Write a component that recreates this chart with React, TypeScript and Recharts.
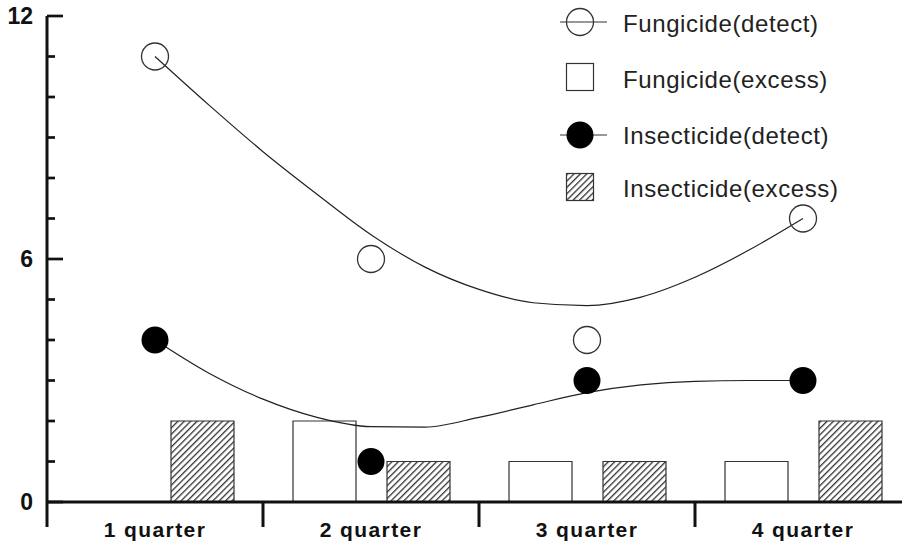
import { Bar, ComposedChart, Legend, Line, XAxis, YAxis } from "recharts";

const QUARTERS = ["1 quarter", "2 quarter", "3 quarter", "4 quarter"];
const FUNGICIDE_DETECT = [11, 6, 4, 7];
const FUNGICIDE_EXCESS = [0, 2, 1, 1];
const INSECTICIDE_DETECT = [4, 1, 3, 3];
const INSECTICIDE_EXCESS = [2, 1, 1, 2];

// trend curves at quarter steps (1 = "1 quarter")
const TREND_X = [1, 1.25, 1.5, 1.75, 2, 2.25, 2.5, 2.75, 3, 3.25, 3.5, 3.75, 4];
const FUNGICIDE_TREND = [11, 9.8, 8.65, 7.6, 6.6, 5.8, 5.25, 4.92, 4.85, 5.06, 5.55, 6.22, 7];
const INSECTICIDE_TREND = [4, 3.18, 2.54, 2.09, 1.86, 1.85, 2.09, 2.4, 2.7, 2.89, 2.98, 3, 3];

const Y_TICKS = [0, 1, 2, 3, 4, 5, 6, 7, 8, 9, 10, 11, 12];
const Y_LABELED = [0, 6, 12];

const W = 930;
const H = 545;
const Y_AXIS_W = 47;
const X_AXIS_H = 43;
const MARGIN = { top: 16, right: 19, bottom: 0, left: 0 };
const BAND = (W - Y_AXIS_W - MARGIN.right - MARGIN.left) / QUARTERS.length;

const INK = "#111";
const FONT = '"Liberation Sans", Arial, sans-serif';

const rows = QUARTERS.map((q, i) => ({
  q,
  fungDetect: FUNGICIDE_DETECT[i],
  fungExcess: FUNGICIDE_EXCESS[i],
  insDetect: INSECTICIDE_DETECT[i],
  insExcess: INSECTICIDE_EXCESS[i],
}));

const fungTrend = TREND_X.map((x, i) => ({ x, y: FUNGICIDE_TREND[i] }));
const insTrend = TREND_X.map((x, i) => ({ x, y: INSECTICIDE_TREND[i] }));

function YTick({ x, y, payload }: any) {
  const v = payload.value;
  const major = Y_LABELED.includes(v);
  return (
    <g>
      <line x1={x} x2={x + (major ? 16 : 8)} y1={y} y2={y} stroke={INK} strokeWidth={2.7} />
      {major && (
        <text x={x - 14} y={y + 8} textAnchor="end" fontFamily={FONT} fontWeight="bold" fontSize={23} fill={INK}>
          {v}
        </text>
      )}
      {v === 0 && <line x1={x} x2={x} y1={y} y2={y + 25} stroke={INK} strokeWidth={3} />}
    </g>
  );
}

function XTick({ x, y, payload, index }: any) {
  return (
    <g>
      {index < QUARTERS.length - 1 && (
        <line x1={x + BAND / 2} x2={x + BAND / 2} y1={y} y2={y + 25} stroke={INK} strokeWidth={3} />
      )}
      <text
        x={x}
        y={y + 35}
        textAnchor="middle"
        fontFamily={FONT}
        fontWeight="bold"
        fontSize={21}
        letterSpacing={1.4}
        fill={INK}
      >
        {payload.value}
      </text>
    </g>
  );
}

function LegendBox() {
  const text = { fontFamily: FONT, fontSize: 24, letterSpacing: 0.6, fill: "#222" };
  return (
    <svg width={346} height={215}>
      <defs>
        <pattern id="hatchLegend" patternUnits="userSpaceOnUse" width={4.5} height={4.5} patternTransform="rotate(45)">
          <rect width={4.5} height={4.5} fill="#fff" />
          <line x1={0} y1={0} x2={0} y2={4.5} stroke="#333" strokeWidth={2.6} />
        </pattern>
      </defs>
      <line x1={4} x2={51} y1={22} y2={22} stroke="#333" strokeWidth={1.2} />
      <circle cx={24} cy={22} r={13.5} fill="none" stroke="#333" strokeWidth={1.3} />
      <text x={67} y={32} {...text}>Fungicide(detect)</text>

      <rect x={10.5} y={63.5} width={27} height={27} fill="#fff" stroke="#333" strokeWidth={1.2} />
      <text x={67} y={88} {...text}>Fungicide(excess)</text>

      <line x1={4} x2={51} y1={135} y2={135} stroke="#333" strokeWidth={1.2} />
      <circle cx={24} cy={135} r={13.5} fill="#000" />
      <text x={67} y={144} {...text}>Insecticide(detect)</text>

      <rect x={10.5} y={173.5} width={27} height={27} fill="url(#hatchLegend)" stroke="#333" strokeWidth={1.2} />
      <text x={67} y={197} {...text}>Insecticide(excess)</text>
    </svg>
  );
}

export default function App() {
  return (
    <div
      style={{
        position: "absolute",
        left: 0,
        top: 0,
        width: 902,
        height: 545,
        overflow: "hidden",
        background: "#fff",
      }}
    >
      <ComposedChart width={W} height={H} data={rows} margin={MARGIN} barCategoryGap={30} barGap={31}>
        <defs>
          <pattern id="hatch" patternUnits="userSpaceOnUse" width={4.5} height={4.5} patternTransform="rotate(45)">
            <rect width={4.5} height={4.5} fill="#fff" />
            <line x1={0} y1={0} x2={0} y2={4.5} stroke="#333" strokeWidth={2.6} />
          </pattern>
        </defs>
        <XAxis
          dataKey="q"
          height={X_AXIS_H}
          interval={0}
          tickSize={0}
          tickMargin={0}
          tickLine={false}
          axisLine={{ stroke: INK, strokeWidth: 3 }}
          tick={<XTick />}
        />
        <XAxis xAxisId="num" type="number" dataKey="x" domain={[0.5, 4.5]} hide allowDataOverflow />
        <YAxis
          width={Y_AXIS_W}
          domain={[0, 12]}
          ticks={Y_TICKS}
          interval={0}
          tickSize={0}
          tickMargin={0}
          tickLine={false}
          axisLine={{ stroke: INK, strokeWidth: 3 }}
          tick={<YTick />}
        />
        <Legend
          layout="vertical"
          align="center"
          verticalAlign="middle"
          wrapperStyle={{ left: 556, top: 0, width: 346, height: 215 }}
          content={() => <LegendBox />}
        />
        <Bar dataKey="fungExcess" fill="#fff" stroke="#333" strokeWidth={1.2} isAnimationActive={false} />
        <Bar dataKey="insExcess" fill="url(#hatch)" stroke="#333" strokeWidth={1.2} isAnimationActive={false} />
        <Line
          xAxisId="num"
          data={fungTrend}
          dataKey="y"
          type="monotone"
          stroke="#222"
          strokeWidth={1.2}
          dot={false}
          activeDot={false}
          isAnimationActive={false}
        />
        <Line
          xAxisId="num"
          data={insTrend}
          dataKey="y"
          type="monotone"
          stroke="#222"
          strokeWidth={1.2}
          dot={false}
          activeDot={false}
          isAnimationActive={false}
        />
        <Line
          dataKey="fungDetect"
          stroke="none"
          dot={{ r: 13.5, fill: "none", stroke: "#333", strokeWidth: 1.3 }}
          activeDot={false}
          isAnimationActive={false}
        />
        <Line
          dataKey="insDetect"
          stroke="none"
          dot={{ r: 13.5, fill: "#000", stroke: "#000", strokeWidth: 0 }}
          activeDot={false}
          isAnimationActive={false}
        />
      </ComposedChart>
    </div>
  );
}
